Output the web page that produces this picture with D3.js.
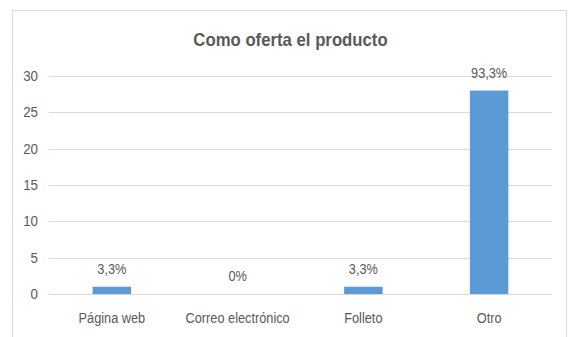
<!DOCTYPE html>
<html>
<head>
<meta charset="utf-8">
<script src="https://cdn.jsdelivr.net/npm/d3@7"></script>
<style>
  html, body { margin: 0; padding: 0; background: #ffffff; }
  svg { display: block; }
  text { font-family: "Liberation Sans", Arial, sans-serif; fill: #595959; }
</style>
</head>
<body>
<svg id="chart" width="569" height="337"></svg>
<script>
// Chart data
const title = "Como oferta el producto";
const categories = ["Página web", "Correo electrónico", "Folleto", "Otro"];
const counts = [1, 0, 1, 28];
const percentLabels = ["3,3%", "0%", "3,3%", "93,3%"];
const yTicks = [0, 5, 10, 15, 20, 25, 30];

const svg = d3.select("#chart");
const plot = { left: 49, right: 552, top: 76, bottom: 294 };
const FONT = "\"Liberation Sans\", Arial, sans-serif";

// Narrow the glyphs horizontally while keeping each label's anchor point
function squeeze(sel, k) {
  sel.each(function () {
    const t = d3.select(this);
    const x = +(t.attr("x") || 0);
    t.attr("x", x / k).attr("transform", `scale(${k},1)`);
  });
}

// Outer chart frame (bottom edge runs past the canvas)
svg.append("rect")
  .attr("x", 12.5).attr("y", 10.5)
  .attr("width", 554).attr("height", 340)
  .attr("fill", "#ffffff")
  .attr("stroke", "#d9d9d9").attr("stroke-width", 1);

const x = d3.scaleBand()
  .domain(categories)
  .range([plot.left, plot.right])
  .paddingInner(0.694)
  .paddingOuter(0.347);

const y = d3.scaleLinear()
  .domain([0, 30])
  .range([plot.bottom, plot.top]);

// Horizontal gridlines
svg.append("g")
  .selectAll("line")
  .data(yTicks)
  .join("line")
  .attr("x1", plot.left).attr("x2", plot.right)
  .attr("y1", d => Math.round(y(d)) + 0.5)
  .attr("y2", d => Math.round(y(d)) + 0.5)
  .attr("stroke", "#d9d9d9").attr("stroke-width", 1);

// Y axis labels
const yAxis = svg.append("g")
  .attr("transform", `translate(${plot.left},0)`)
  .call(d3.axisLeft(y).tickValues(yTicks).tickSize(0).tickPadding(11));
yAxis.select(".domain").remove();
yAxis.selectAll("text")
  .style("font-size", "14.5px")
  .style("font-family", FONT)
  .attr("fill", "#595959")
  .call(squeeze, 0.92);

// X axis labels
const xAxis = svg.append("g")
  .attr("transform", `translate(0,${plot.bottom})`)
  .call(d3.axisBottom(x).tickSize(0).tickPadding(19));
xAxis.select(".domain").remove();
xAxis.selectAll("text")
  .style("font-size", "14.5px")
  .style("font-family", FONT)
  .attr("fill", "#595959")
  .call(squeeze, 0.88);

// Bars
svg.append("g")
  .selectAll("rect")
  .data(categories)
  .join("rect")
  .attr("x", d => x(d))
  .attr("width", x.bandwidth())
  .attr("y", (d, i) => y(counts[i]))
  .attr("height", (d, i) => y(0) - y(counts[i]))
  .attr("fill", "#5b9bd5");

// Value labels above bars
svg.append("g")
  .selectAll("text")
  .data(categories)
  .join("text")
  .attr("x", d => x(d) + x.bandwidth() / 2)
  .attr("y", (d, i) => y(counts[i]) - 13)
  .attr("text-anchor", "middle")
  .style("font-size", "14.5px")
  .text((d, i) => percentLabels[i])
  .call(squeeze, 0.88);

// Title
svg.append("text")
  .attr("x", 290.5)
  .attr("y", 46)
  .attr("text-anchor", "middle")
  .style("font-size", "18px")
  .style("font-weight", "bold")
  .text(title)
  .call(squeeze, 0.93);
</script>
</body>
</html>
